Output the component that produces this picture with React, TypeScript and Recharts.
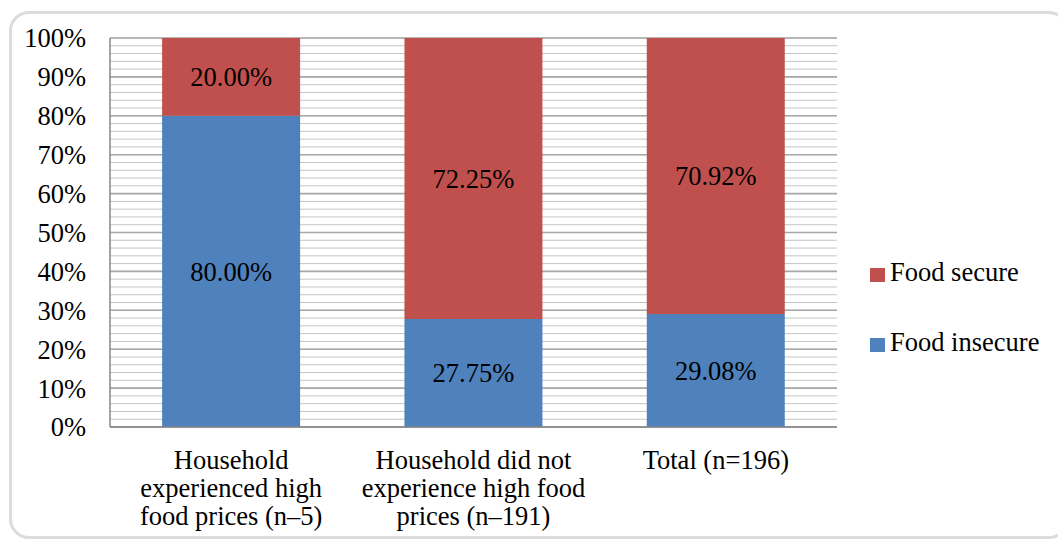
import React from 'react';
import { BarChart, Bar, XAxis, YAxis, CartesianGrid, LabelList } from 'recharts';

// Category labels, one entry per line of the wrapped axis label
const categoryLines: string[][] = [
  ['Household', 'experienced high', 'food prices (n–5)'],
  ['Household did not', 'experience high food', 'prices (n–191)'],
  ['Total (n=196)'],
];

// Shares of households (%) in each category
const foodInsecure = [80.0, 27.75, 29.08];
const foodSecure = [20.0, 72.25, 70.92];

// Axis ticks and grid lines
const yTicks = [0, 10, 20, 30, 40, 50, 60, 70, 80, 90, 100];
const minorTicks = [
  0, 2, 4, 6, 8, 10, 12, 14, 16, 18, 20, 22, 24, 26, 28, 30, 32, 34, 36, 38, 40,
  42, 44, 46, 48, 50, 52, 54, 56, 58, 60, 62, 64, 66, 68, 70, 72, 74, 76, 78, 80,
  82, 84, 86, 88, 90, 92, 94, 96, 98, 100,
];

const BLUE = '#4F81BD';
const RED = '#C0504D';
const FONT = "'Liberation Serif', serif";
const FONT_SIZE = 26.5;

const data = categoryLines.map((lines, i) => ({
  name: lines.join(' '),
  insecure: foodInsecure[i],
  secure: foodSecure[i],
}));

const pct = (v: any) => `${Number(v).toFixed(2)}%`;

const CategoryTick = (props: any) => {
  const { x, y, payload } = props;
  const lines = categoryLines[payload.index] || [String(payload.value)];
  return (
    <text x={x} y={y} textAnchor="middle" style={{ fontFamily: FONT, fontSize: FONT_SIZE }} fill="#000">
      {lines.map((line, i) => (
        <tspan key={i} x={x} y={y + 42 + i * 28}>
          {line}
        </tspan>
      ))}
    </text>
  );
};

const legendItems = [
  { label: 'Food secure', color: RED },
  { label: 'Food insecure', color: BLUE },
];

const LegendBox = () => (
  <div style={{ position: 'absolute', left: 870, top: 257, fontFamily: FONT, fontSize: FONT_SIZE, color: '#000' }}>
    {legendItems.map((item) => (
      <div
        key={item.label}
        style={{ display: 'flex', alignItems: 'center', height: 30, marginBottom: 40, whiteSpace: 'nowrap' }}
      >
        <span
          style={{
            display: 'inline-block',
            width: 15,
            height: 14,
            background: item.color,
            marginRight: 5,
            marginTop: 6,
          }}
        />
        <span>{item.label}</span>
      </div>
    ))}
  </div>
);

export default function App() {
  return (
    <div style={{ position: 'absolute', left: 0, top: 0, width: 1058, height: 542, background: '#fff', overflow: 'hidden', fontFamily: FONT }}>
      <div
        style={{
          position: 'absolute',
          left: 9,
          top: 11,
          width: 1060,
          height: 528,
          border: '3px solid #dcdcdc',
          borderRadius: 20,
          boxSizing: 'border-box',
        }}
      />
      <div style={{ position: 'absolute', left: 0, top: 0 }}>
        <BarChart
          width={1058}
          height={542}
          data={data}
          margin={{ top: 38, right: 221, left: 0, bottom: 0 }}
          barCategoryGap="21.5%"
        >
          <CartesianGrid vertical={false} horizontalValues={minorTicks} stroke="#c4c4c4" strokeWidth={1} />
          <CartesianGrid vertical={false} horizontalValues={yTicks} stroke="#a8a8a8" strokeWidth={1.6} />
          <XAxis
            dataKey="name"
            height={115}
            interval={0}
            tickLine={false}
            tickSize={0}
            tickMargin={0}
            axisLine={{ stroke: '#868686', strokeWidth: 1.5 }}
            tick={<CategoryTick />}
          />
          <YAxis
            width={110}
            domain={[0, 100]}
            ticks={yTicks}
            interval={0}
            tickFormatter={(v: number) => `${v}%`}
            tickLine={false}
            tickSize={0}
            tickMargin={24}
            axisLine={{ stroke: '#868686', strokeWidth: 1.5 }}
            tick={{ style: { fontFamily: FONT, fontSize: FONT_SIZE }, fill: '#000' }}
          />
          <Bar dataKey="insecure" name="Food insecure" stackId="a" fill={BLUE} isAnimationActive={false}>
            <LabelList
              dataKey="insecure"
              position="center"
              formatter={pct}
              fill="#000"
              style={{ fontFamily: FONT, fontSize: FONT_SIZE }}
            />
          </Bar>
          <Bar dataKey="secure" name="Food secure" stackId="a" fill={RED} isAnimationActive={false}>
            <LabelList
              dataKey="secure"
              position="center"
              formatter={pct}
              fill="#000"
              style={{ fontFamily: FONT, fontSize: FONT_SIZE }}
            />
          </Bar>
        </BarChart>
      </div>
      <LegendBox />
    </div>
  );
}
